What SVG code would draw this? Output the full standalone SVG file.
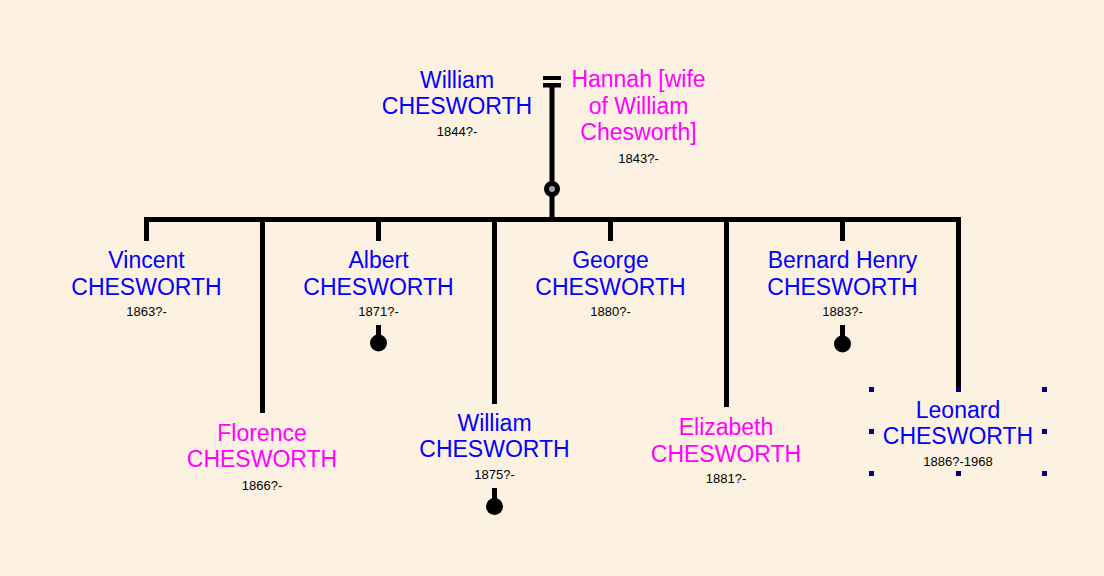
<svg xmlns="http://www.w3.org/2000/svg" width="1104" height="576" viewBox="0 0 1104 576">
<defs>
<style>
text{font-family:"Liberation Sans",Arial,sans-serif;text-anchor:middle}
.n{font-size:23px}
.m{fill:#0000FF}
.f{fill:#FF00FF}
.d{font-size:13px;fill:#000}
.ln{stroke:#000;stroke-width:5;fill:none}
.h{fill:#000080}
</style>
</defs>
<rect x="0" y="0" width="1104" height="576" fill="#FDF2E1"/>
<g id="connectors">
<rect x="543" y="76" width="18" height="4" fill="#000"/>
<rect x="543" y="83" width="18" height="4.5" fill="#000"/>
<line class="ln" x1="552" y1="87" x2="552" y2="220"/>
<circle cx="552" cy="189" r="5.5" fill="#A0A0A0" stroke="#000" stroke-width="5"/>
<line class="ln" x1="144" y1="219.5" x2="961" y2="219.5"/>
<line class="ln" x1="146.5" y1="219" x2="146.5" y2="241"/>
<line class="ln" x1="262.5" y1="219" x2="262.5" y2="413"/>
<line class="ln" x1="378.5" y1="219" x2="378.5" y2="241"/>
<line class="ln" x1="494.5" y1="219" x2="494.5" y2="404"/>
<line class="ln" x1="610.5" y1="219" x2="610.5" y2="241"/>
<line class="ln" x1="726.5" y1="219" x2="726.5" y2="407"/>
<line class="ln" x1="842.5" y1="219" x2="842.5" y2="241"/>
<line class="ln" x1="958.5" y1="219" x2="958.5" y2="389"/>
</g>
<g id="william-sr">
<text class="n m" x="457" y="88">William</text>
<text class="n m" x="457" y="114">CHESWORTH</text>
<text class="d" x="457" y="136">1844?-</text>
</g>
<g id="hannah">
<text class="n f" x="638.5" y="87">Hannah [wife</text>
<text class="n f" x="638.5" y="114">of William</text>
<text class="n f" x="638.5" y="140">Chesworth]</text>
<text class="d" x="638.5" y="163">1843?-</text>
</g>
<g id="vincent">
<text class="n m" x="146.5" y="268">Vincent</text>
<text class="n m" x="146.5" y="294.5">CHESWORTH</text>
<text class="d" x="146.5" y="316">1863?-</text>
</g>
<g id="florence">
<text class="n f" x="262" y="440.5">Florence</text>
<text class="n f" x="262" y="467">CHESWORTH</text>
<text class="d" x="262" y="489.5">1866?-</text>
</g>
<g id="albert">
<text class="n m" x="378.5" y="268">Albert</text>
<text class="n m" x="378.5" y="294.5">CHESWORTH</text>
<text class="d" x="378.5" y="316">1871?-</text>
<line class="ln" x1="378.5" y1="325" x2="378.5" y2="340"/>
<circle cx="378.5" cy="343" r="8.5" fill="#000"/>
</g>
<g id="william-jr">
<text class="n m" x="494.5" y="430.5">William</text>
<text class="n m" x="494.5" y="457">CHESWORTH</text>
<text class="d" x="494.5" y="479">1875?-</text>
<line class="ln" x1="494.5" y1="488" x2="494.5" y2="503"/>
<circle cx="494.5" cy="506.5" r="8.5" fill="#000"/>
</g>
<g id="george">
<text class="n m" x="610.5" y="268">George</text>
<text class="n m" x="610.5" y="294.5">CHESWORTH</text>
<text class="d" x="610.5" y="316">1880?-</text>
</g>
<g id="elizabeth">
<text class="n f" x="726" y="435">Elizabeth</text>
<text class="n f" x="726" y="461.5">CHESWORTH</text>
<text class="d" x="726" y="483">1881?-</text>
</g>
<g id="bernard">
<text class="n m" x="842.5" y="268">Bernard Henry</text>
<text class="n m" x="842.5" y="294.5">CHESWORTH</text>
<text class="d" x="842.5" y="316">1883?-</text>
<line class="ln" x1="842.5" y1="325" x2="842.5" y2="341"/>
<circle cx="842.5" cy="344" r="8.5" fill="#000"/>
</g>
<g id="leonard">
<text class="n m" x="958" y="417.5">Leonard</text>
<text class="n m" x="958" y="443.5">CHESWORTH</text>
<text class="d" x="958" y="466">1886?-1968</text>
<rect class="h" x="869" y="387" width="5" height="5"/>
<rect class="h" x="956" y="387" width="5" height="5"/>
<rect class="h" x="1042" y="387" width="5" height="5"/>
<rect class="h" x="869" y="429" width="5" height="5"/>
<rect class="h" x="1042" y="429" width="5" height="5"/>
<rect class="h" x="869" y="471" width="5" height="5"/>
<rect class="h" x="956" y="471" width="5" height="5"/>
<rect class="h" x="1042" y="471" width="5" height="5"/>
</g>
</svg>
